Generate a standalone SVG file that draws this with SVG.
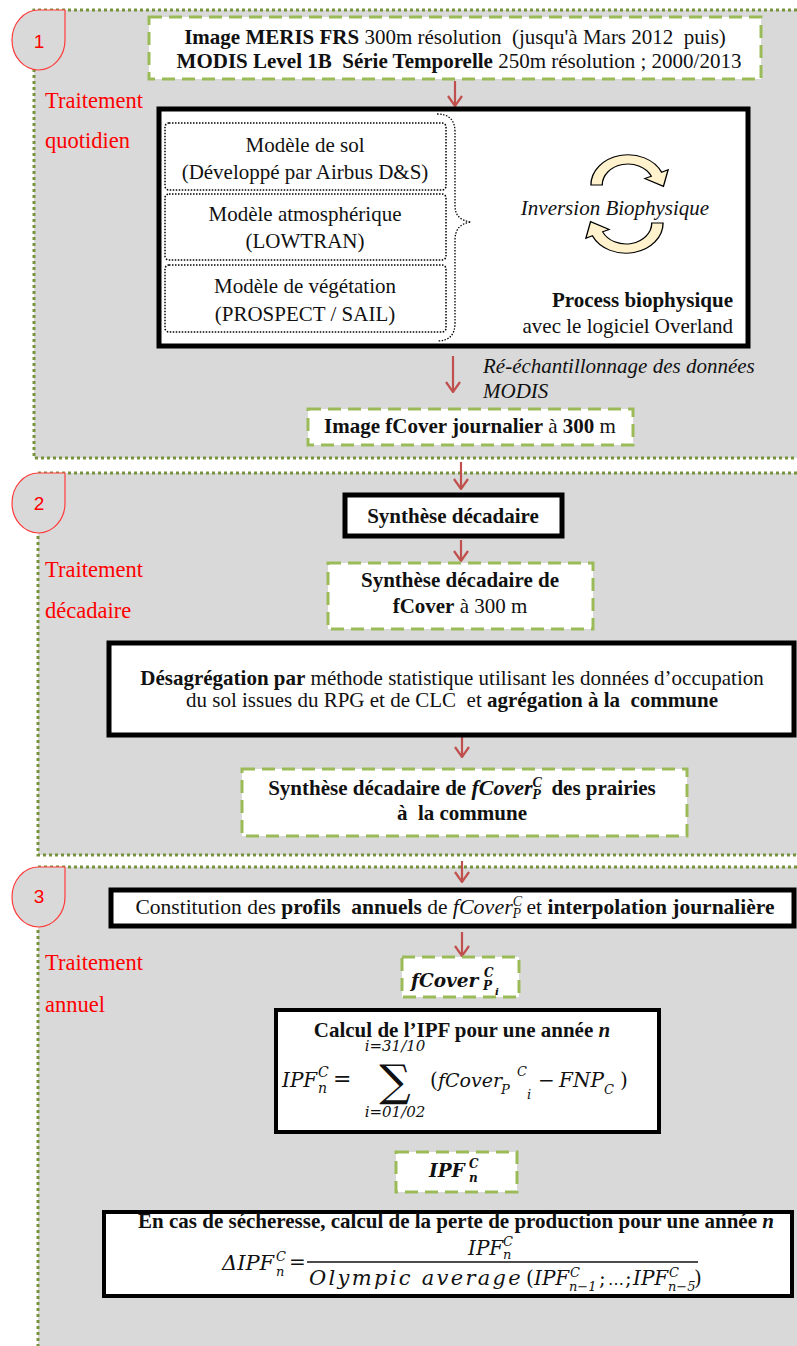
<svg xmlns="http://www.w3.org/2000/svg" width="797" height="1346" viewBox="0 0 797 1346">
<defs>
<style>
.panel{fill:#d9d9d9}
.pb{fill:none;stroke:#77933c;stroke-width:3;stroke-dasharray:3 3}
.gbox{fill:#fff;stroke:#9bbb59;stroke-width:3;stroke-dasharray:13 7}
.bbox{fill:#fff;stroke:#000;stroke-width:5}
.dbox{fill:#fff;stroke:#000;stroke-width:1.5;stroke-dasharray:1.5 1.5}
.badge{fill:#d9d9d9;stroke:#ff3b3b;stroke-width:1.2}
.num{font-family:"Liberation Sans",Arial,sans-serif;font-size:19px;fill:#ff0000;text-anchor:middle}
.red{font-family:"Liberation Serif","Times New Roman",serif;font-size:22.5px;fill:#ff0000}
.t{font-family:"Liberation Serif","Times New Roman",serif;font-size:21px;fill:#111}
.m{font-family:"DejaVu Serif",serif;font-style:italic;fill:#111}
.mr{font-family:"DejaVu Serif",serif;fill:#111}
.b{font-weight:bold}
.i{font-style:italic}
.mid{text-anchor:middle}
.end{text-anchor:end}
.pre{white-space:pre}
.conn{fill:none;stroke:#c0504d;stroke-width:2.2}
.circ{fill:#fff2cc;stroke:#000;stroke-width:1.3}
</style>
<marker id="ah" viewBox="0 0 12 16" refX="11" refY="8" markerWidth="12" markerHeight="16" orient="auto" markerUnits="userSpaceOnUse">
<path d="M1,1 L11,8 L1,15" fill="none" stroke="#c0504d" stroke-width="2.2"/>
</marker>
<path id="carc" d="M-25,0 L-36,0 A36,36 0 0 1 32.63,-15.21 L38.97,-18.17 L34.4,1.6 L16.31,-7.61 L22.66,-10.57 A25,25 0 0 0 -25,0 Z"/>
</defs>

<g id="panels">
<rect class="panel" x="34" y="10" width="763" height="448"/>
<path class="pb" d="M797,10 L34,10 L34,458 L797,458"/>
<rect class="panel" x="38" y="473" width="759" height="382"/>
<path class="pb" d="M797,473 L38,473 L38,855 L797,855"/>
<rect class="panel" x="38" y="867" width="759" height="479"/>
<path class="pb" d="M797,867 L38,867 L38,1346"/>
</g>

<g id="badge1">
<path class="badge" d="M65,10 L65,40 A26.5,30 0 1 1 38.5,10 Z"/>
<text class="num" x="39" y="48">1</text>
<text class="red" x="45" y="108">Traitement</text>
<text class="red" x="45" y="148">quotidien</text>
</g>
<g id="badge2">
<path class="badge" d="M65,473 L65,503 A26.5,30 0 1 1 38.5,473 Z"/>
<text class="num" x="39" y="510">2</text>
<text class="red" x="45" y="577">Traitement</text>
<text class="red" x="45" y="618">décadaire</text>
</g>
<g id="badge3">
<path class="badge" d="M65,867 L65,897 A26.5,30 0 1 1 38.5,867 Z"/>
<text class="num" x="39" y="903">3</text>
<text class="red" x="45" y="970">Traitement</text>
<text class="red" x="45" y="1012">annuel</text>
</g>

<g id="connectors">
<line class="conn" x1="455" y1="81" x2="455" y2="106" marker-end="url(#ah)"/>
<line class="conn" x1="453" y1="356" x2="453" y2="392" marker-end="url(#ah)"/>
<line class="conn" x1="461" y1="462" x2="461" y2="489" marker-end="url(#ah)"/>
<line class="conn" x1="461" y1="540" x2="461" y2="561" marker-end="url(#ah)"/>
<line class="conn" x1="462" y1="725" x2="462" y2="757" marker-end="url(#ah)"/>
<line class="conn" x1="462" y1="861" x2="462" y2="882" marker-end="url(#ah)"/>
<line class="conn" x1="462" y1="932" x2="462" y2="956" marker-end="url(#ah)"/>
</g>

<g id="n-source">
<rect class="gbox" x="149" y="17" width="612" height="62"/>
<text class="t mid pre" x="455" y="44"><tspan class="b">Image MERIS FRS</tspan> 300m résolution  (jusqu'à Mars 2012  puis)</text>
<text class="t mid pre" x="459" y="68"><tspan class="b">MODIS Level 1B  Série Temporelle</tspan> 250m résolution ; 2000/2013</text>
</g>

<g id="n-process">
<rect class="bbox" x="159" y="109" width="589" height="237"/>
<rect class="dbox" x="165" y="123" width="281" height="67" rx="4"/>
<text class="t mid" x="305" y="152">Modèle de sol</text>
<text class="t mid" x="305" y="179">(Développé par Airbus D&amp;S)</text>
<rect class="dbox" x="165" y="194" width="281" height="66" rx="4"/>
<text class="t mid" x="305" y="221">Modèle atmosphérique</text>
<text class="t mid" x="305" y="248">(LOWTRAN)</text>
<rect class="dbox" x="165" y="265" width="281" height="67" rx="4"/>
<text class="t mid" x="305" y="293">Modèle de végétation</text>
<text class="t mid" x="305" y="321">(PROSPECT / SAIL)</text>
<path d="M437,114 Q455,114 455,132 L455,206 Q455,220 471,222 Q455,224 455,240 L455,323 Q455,341 437,341" fill="none" stroke="#000" stroke-width="1.3" stroke-dasharray="1.5 1.5"/>
<use href="#carc" class="circ" transform="translate(628,185) scale(1.03,0.84)"/>
<use href="#carc" class="circ" transform="translate(626,223) scale(1.03,0.84) rotate(180)"/>
<text class="t i mid" x="615" y="215">Inversion Biophysique</text>
<text class="t b end" x="733" y="307">Process biophysique</text>
<text class="t end" x="733" y="333">avec le logiciel Overland</text>
</g>

<g id="l-resample">
<text class="t i" x="483" y="373">Ré-échantillonnage des données</text>
<text class="t i" x="483" y="398">MODIS</text>
</g>

<g id="n-fcover-day">
<rect class="gbox" x="308" y="409" width="325" height="36"/>
<text class="t mid" x="470" y="433"><tspan class="b">Image fCover journalier</tspan> à <tspan class="b">300</tspan> m</text>
</g>

<g id="n-synth">
<rect class="bbox" x="345" y="495" width="217" height="41"/>
<text class="t b mid" x="453" y="523">Synthèse décadaire</text>
</g>

<g id="n-synth-fcover">
<rect class="gbox" x="328" y="563" width="265" height="66"/>
<text class="t b mid" x="460" y="587">Synthèse décadaire de</text>
<text class="t mid" x="460" y="613"><tspan class="b">fCover</tspan> à 300 m</text>
</g>

<g id="n-desagr">
<rect class="bbox" x="109" y="643" width="685" height="92"/>
<text class="t mid" x="452" y="685"><tspan class="b">Désagrégation par</tspan> méthode statistique utilisant les données d’occupation</text>
<text class="t mid pre" x="452" y="707">du sol issues du RPG et de CLC  et <tspan class="b">agrégation à la  commune</tspan></text>
</g>

<g id="n-commune">
<rect class="gbox" x="242" y="769" width="445" height="67"/>
<text class="t b mid pre" x="462" y="795">Synthèse décadaire de <tspan class="i" font-size="22">fCover</tspan><tspan class="i" font-size="14" dy="-8">C</tspan><tspan class="i" font-size="14" dx="-9.5" dy="12">P</tspan><tspan dy="-4">  des prairies</tspan></text>
<text class="t b mid pre" x="462" y="820">à  la commune</text>
</g>

<g id="n-constitution">
<rect class="bbox" x="111" y="890" width="683" height="36"/>
<text class="t mid pre" x="455" y="914" style="font-size:21.5px">Constitution des <tspan class="b">profils  annuels</tspan> de <tspan class="i" font-size="22">fCover</tspan><tspan class="i" font-size="14" dy="-8">C</tspan><tspan class="i" font-size="14" dx="-9.5" dy="12">P</tspan><tspan dy="-4"> et </tspan><tspan class="b">interpolation journalière</tspan></text>
</g>

<g id="n-fcover-pi">
<rect class="gbox" x="402" y="957" width="117" height="40"/>
<text class="m b" x="411" y="987" style="font-size:18.5px">fCover</text>
<text class="m b" x="484" y="977" style="font-size:12px">C</text>
<text class="m b" x="483" y="990" style="font-size:12px">P</text>
<text class="m b" x="495" y="995" style="font-size:10px">i</text>
</g>

<g id="n-ipf-calc">
<rect class="bbox" x="276" y="1010" width="383" height="122" style="stroke-width:4"/>
<text class="t mid" x="462" y="1037"><tspan class="b">Calcul de l’IPF pour une année </tspan><tspan class="b i">n</tspan></text>
<text class="m" x="282" y="1087" style="font-size:20px">IPF</text>
<text class="m" x="318" y="1077" style="font-size:14px">C</text>
<text class="m" x="318" y="1093" style="font-size:14px">n</text>
<text class="mr" x="333" y="1086" style="font-size:22px">=</text>
<text class="mr mid" x="395" y="1096" style="font-size:44px">∑</text>
<text class="m mid" x="395" y="1051" style="font-size:15px">i=31/10</text>
<text class="m mid" x="395" y="1117" style="font-size:15px">i=01/02</text>
<text class="mr" x="430" y="1087" style="font-size:20px">(</text>
<text class="m" x="438" y="1087" style="font-size:19px">fCover</text>
<text class="m" x="501" y="1094" style="font-size:13px">P</text>
<text class="m" x="517" y="1076" style="font-size:13px">C</text>
<text class="m" x="527" y="1099" style="font-size:13px">i</text>
<text class="mr" x="538" y="1087" style="font-size:20px">−</text>
<text class="m" x="559" y="1087" style="font-size:20px">FNP</text>
<text class="m" x="604" y="1094" style="font-size:13px">C</text>
<text class="mr" x="620" y="1087" style="font-size:20px">)</text>
</g>

<g id="n-ipf">
<rect class="gbox" x="396" y="1152" width="121" height="40"/>
<text class="m b" x="429" y="1177" style="font-size:18.5px">IPF</text>
<text class="m b" x="469" y="1168" style="font-size:12px">C</text>
<text class="m b" x="469" y="1182" style="font-size:12px">n</text>
</g>

<g id="n-loss">
<rect class="bbox" x="104" y="1212" width="688" height="84" style="stroke-width:4"/>
<text class="t mid" x="456" y="1228"><tspan class="b">En cas de sécheresse, calcul de la perte de production pour une année </tspan><tspan class="b i">n</tspan></text>
<text class="m" x="222" y="1270" style="font-size:21px">ΔIPF</text>
<text class="m" x="276" y="1261" style="font-size:13px">C</text>
<text class="m" x="276" y="1276" style="font-size:13px">n</text>
<text class="mr" x="289" y="1269" style="font-size:20px">=</text>
<line x1="307" y1="1262" x2="698" y2="1262" stroke="#111" stroke-width="1.3"/>
<text class="m" x="468" y="1255" style="font-size:20px">IPF</text>
<text class="m" x="503" y="1246" style="font-size:13px">C</text>
<text class="m" x="503" y="1259" style="font-size:13px">n</text>
<text class="m" x="309" y="1285" style="font-size:21px;letter-spacing:2.3px">Olympic average</text>
<text class="mr" x="526" y="1285" style="font-size:20px">(</text>
<text class="m" x="534" y="1285" style="font-size:20px">IPF</text>
<text class="m" x="570" y="1277" style="font-size:13px">C</text>
<text class="m" x="569" y="1291" style="font-size:13px">n−1</text>
<text class="mr" x="599" y="1285" style="font-size:20px">;</text>
<text class="mr" x="608" y="1285" style="font-size:16px">…</text>
<text class="mr" x="625" y="1285" style="font-size:20px">;</text>
<text class="m" x="633" y="1285" style="font-size:20px">IPF</text>
<text class="m" x="669" y="1277" style="font-size:13px">C</text>
<text class="m" x="668" y="1291" style="font-size:13px">n−5</text>
<text class="mr" x="694" y="1285" style="font-size:20px">)</text>
</g>
</svg>
